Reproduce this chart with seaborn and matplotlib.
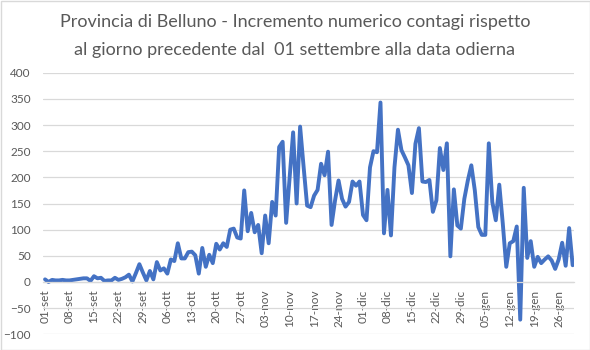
import numpy as np
import pandas as pd
import seaborn as sns
import matplotlib
matplotlib.use("Agg")
import matplotlib.pyplot as plt
from matplotlib.patches import Rectangle

# ---- data (daily increase, 01 Sep -> 30 Jan) ----
sep_values = [5, 0, 4, 3, 3, 4, 3, 3, 4, 5, 6, 7, 7, 2, 11, 7, 8, 2, 3, 3,
              8, 4, 6, 9, 14, 1, 17, 34, 18, 3]
oct_values = [21, 5, 38, 22, 26, 16, 43, 40, 74, 45, 45, 57, 58, 51, 16, 65,
              29, 52, 36, 73, 62, 74, 67, 100, 102, 85, 83, 175, 97, 132, 95]
nov_values = [109, 55, 127, 74, 153, 127, 258, 268, 113, 200, 286, 150, 297,
              220, 146, 143, 165, 176, 226, 204, 249, 109, 156, 194, 159, 144,
              153, 192, 184, 192]
dec_values = [128, 118, 219, 250, 248, 343, 93, 176, 89, 219, 291, 252, 238,
              223, 170, 264, 294, 192, 191, 195, 134, 156, 256, 214, 265, 49,
              177, 108, 102, 159, 194]
jan_values = [223, 175, 105, 90, 90, 265, 153, 118, 186, 112, 29, 74, 78, 106,
              -72, 180, 46, 78, 29, 48, 36, 43, 49, 41, 25, 43, 75, 31, 103, 32]

tick_labels = ["01-set", "08-set", "15-set", "22-set", "29-set", "06-ott",
               "13-ott", "20-ott", "27-ott", "03-nov", "10-nov", "17-nov",
               "24-nov", "01-dic", "08-dic", "15-dic", "22-dic", "29-dic",
               "05-gen", "12-gen", "19-gen", "26-gen"]

title_line1 = "Provincia di Belluno - Incremento numerico contagi rispetto"
title_line2 = "al giorno precedente dal  01 settembre alla data odierna"

values = sep_values + oct_values + nov_values + dec_values + jan_values
df = pd.DataFrame({"giorno": np.arange(len(values)), "incremento": values})

sns.set_theme(style="white")
plt.rcParams["font.family"] = ["Lato", "DejaVu Sans"]

text_col = "#595959"
grid_col = "#d9d9d9"

fig = plt.figure(figsize=(5.9, 3.5), dpi=100)
ax = fig.add_axes([43.3 / 590, 1 - 334.3 / 350, (574.4 - 43.3) / 590,
                   (334.3 - 72.7) / 350])

sns.lineplot(data=df, x="giorno", y="incremento", ax=ax, color="#4472C4",
             linewidth=2.8, solid_joinstyle="round")

ax.set_xlim(-0.5, len(values) - 0.5)
ax.set_ylim(-100, 400)
ax.set_yticks(np.arange(-100, 401, 50))
ax.yaxis.grid(True, color=grid_col, linewidth=0.9)
ax.xaxis.grid(False)
ax.set_axisbelow(True)

ax.set_xticks(np.arange(0, len(values), 7)[:len(tick_labels)])
ax.set_xticklabels(tick_labels)

for s in ["left", "right", "top"]:
    ax.spines[s].set_visible(False)
ax.spines["bottom"].set_position(("data", 0))
ax.spines["bottom"].set_color(grid_col)
ax.spines["bottom"].set_linewidth(0.9)

ax.tick_params(axis="y", length=0, pad=9, labelsize=8.5, labelcolor=text_col)
ax.tick_params(axis="x", length=3.5, width=0.8, color="#bfbfbf", pad=2,
               labelsize=8.5, labelcolor=text_col, direction="out",
               labelrotation=90)
for lab in ax.get_xticklabels():
    lab.set_rotation(90)
    lab.set_ha("center")
    lab.set_va("top")
ax.set_xlabel("")
ax.set_ylabel("")

fig.text(0.5, 1 - 22 / 350, title_line1, ha="center", va="center",
         fontsize=13, color=text_col)
fig.text(0.5, 1 - 50 / 350, title_line2, ha="center", va="center",
         fontsize=13, color=text_col)

fig.patches.append(Rectangle((0.5 / 590, 0.5 / 350), 1 - 1 / 590, 1 - 1 / 350,
                             transform=fig.transFigure, fill=False,
                             edgecolor=grid_col, linewidth=1))

fig.savefig("out.png", dpi=100)
